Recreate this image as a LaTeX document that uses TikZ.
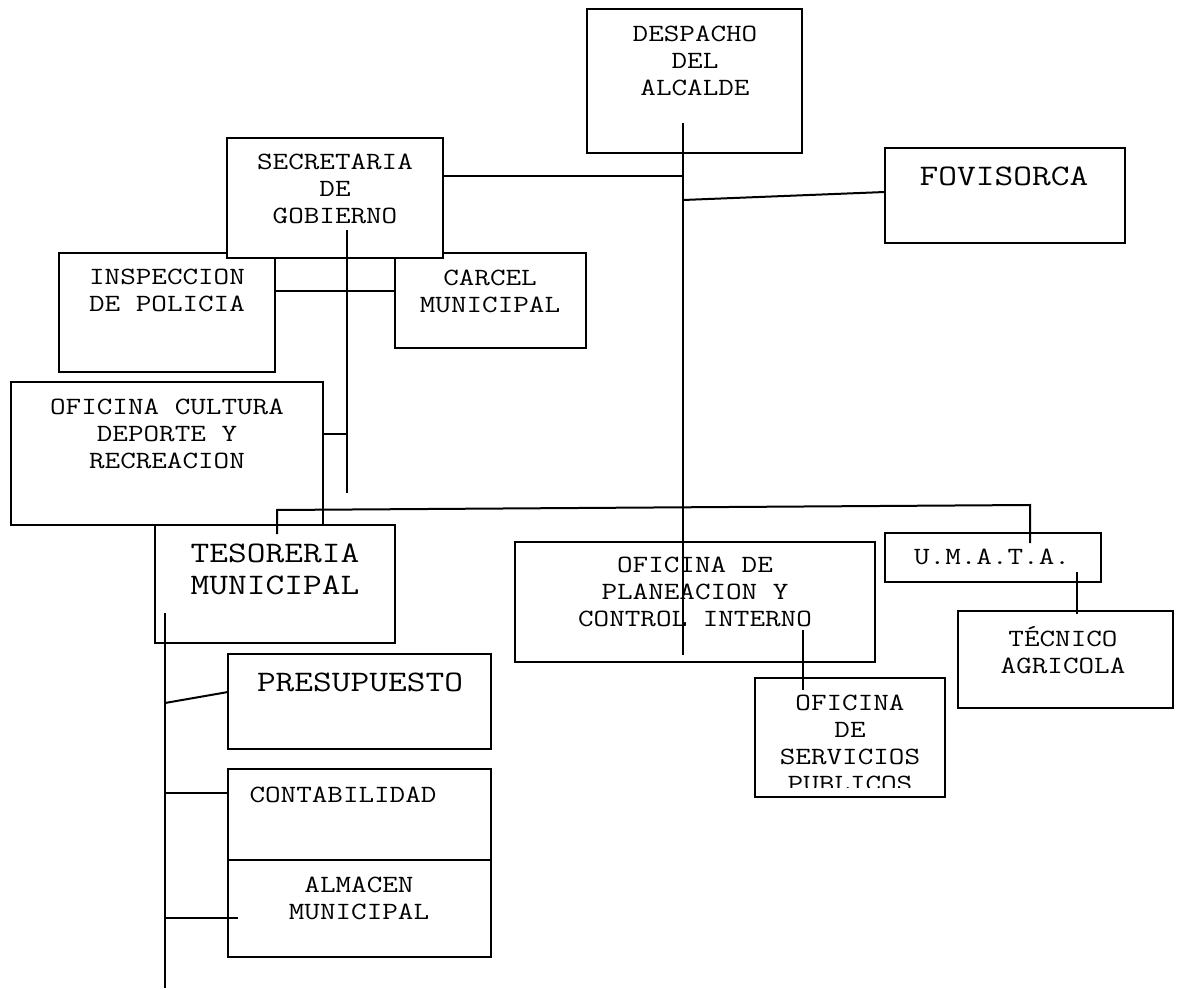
\documentclass[tikz,border=0pt]{standalone}
\usepackage{fontspec}
\setmainfont{Latin Modern Mono}[FakeStretch=1.22]
\usetikzlibrary{fit}
\newcommand\monosmall{\fontsize{12.4pt}{13.5pt}\selectfont}
\newcommand\monobig{\fontsize{14.9pt}{16pt}\selectfont}
\tikzset{
  unit/.style={draw, fill=white, line width=1pt, inner sep=0pt},
  caption/.style={font=\monosmall, align=center, inner sep=0pt},
  bigcaption/.style={font=\monobig, align=center, inner sep=0pt},
  link/.style={line width=1pt}
}
\begin{document}
\begin{tikzpicture}[x=0.5pt, y=-0.5pt]
\useasboundingbox (0,0) rectangle (1180,990);

\node[unit, fit={(587,9) (802,153)}]     (despacho) {};
\node[unit, fit={(885,148) (1125,243)}]  (fovisorca) {};
\node[unit, fit={(59,253) (275,372)}]    (inspeccion) {};
\node[unit, fit={(395,253) (586,348)}]   (carcel) {};
\node[unit, fit={(227,138) (443,258)}]   (secretaria) {};
\node[unit, fit={(11,382) (323,525)}]    (cultura) {};
\node[unit, fit={(155,525) (395,643)}]   (tesoreria) {};
\node[unit, fit={(228,654) (491,749)}]   (presupuesto) {};
\node[unit, fit={(228,769) (491,860)}]   (contabilidad) {};
\node[unit, fit={(228,860) (491,957)}]   (almacen) {};
\node[unit, fit={(515,542) (875,662)}]   (planeacion) {};
\node[unit, fit={(755,678) (945,797)}]   (servicios) {};
\node[unit, fit={(885,533) (1101,582)}]  (umata) {};
\node[unit, fit={(958,611) (1173,708)}]  (tecnico) {};

\node[caption]    (despacho-t)     at (695,61)   {DESPACHO\\DEL\\ALCALDE};
\node[caption]    (secretaria-t)   at (335,189)  {SECRETARIA\\DE\\GOBIERNO};
\node[bigcaption] (fovisorca-t)    at (1004,176) {FOVISORCA};
\node[caption]    (inspeccion-t)   at (167,290)  {INSPECCION\\DE POLICIA};
\node[caption]    (carcel-t)       at (490,291)  {CARCEL\\MUNICIPAL};
\node[caption]    (cultura-t)      at (167,434)  {OFICINA CULTURA\\DEPORTE Y\\RECREACION};
\node[bigcaption] (tesoreria-t)    at (275,569)  {TESORERIA\\MUNICIPAL};
\node[bigcaption] (presupuesto-t)  at (360,682)  {PRESUPUESTO};
\node[caption]    (contabilidad-t) at (343,795)  {CONTABILIDAD};
\node[caption]    (almacen-t)      at (359,898)  {ALMACEN\\MUNICIPAL};
\node[caption]    (planeacion-t)   at (695,592)  {OFICINA DE\\PLANEACION Y\\CONTROL INTERNO};
\node[caption]    (umata-t)        at (992,557)  {U.M.A.T.A.};
\node[caption]    (tecnico-t)      at (1063,650) {TÉCNICO\\AGRICOLA};
\begin{scope}
\clip (755,678) rectangle (945,787);
\node[caption]    (servicios-t)    at (850,743)  {OFICINA\\DE\\SERVICIOS\\PUBLICOS};
\end{scope}

\coordinate (trunk-top)   at (683,123);
\coordinate (trunk-end)   at (683,655);
\coordinate (trunk-sec)   at (683,176);
\coordinate (trunk-fov)   at (683,200);
\coordinate (sec-out)     at (443,176);
\coordinate (fov-in)      at (885,192);
\coordinate (gob-top)     at (347,230);
\coordinate (gob-end)     at (347,493);
\coordinate (ins-out)     at (275,291);
\coordinate (car-in)      at (395,291);
\coordinate (cul-out)     at (323,434);
\coordinate (gob-cul)     at (347,434);
\coordinate (tes-up)      at (277,534);
\coordinate (tes-knee)    at (277,510);
\coordinate (uma-knee)    at (1030,505);
\coordinate (uma-in)      at (1030,543);
\coordinate (tes-top)     at (165,613);
\coordinate (tes-end)     at (165,988);
\coordinate (tes-pre)     at (165,703);
\coordinate (pre-in)      at (228,692);
\coordinate (tes-con)     at (165,793);
\coordinate (con-in)      at (228,793);
\coordinate (tes-alm)     at (165,918);
\coordinate (alm-in)      at (238,918);
\coordinate (pla-out)     at (803,630);
\coordinate (ser-in)      at (803,690);
\coordinate (uma-out)     at (1077,572);
\coordinate (tec-in)      at (1077,614);

\draw[link] (trunk-top) -- (trunk-end);
\draw[link] (sec-out) -- (trunk-sec);
\draw[link] (trunk-fov) -- (fov-in);
\draw[link] (gob-top) -- (gob-end);
\draw[link] (ins-out) -- (car-in);
\draw[link] (cul-out) -- (gob-cul);
\draw[link] (tes-up) -- (tes-knee) -- (uma-knee) -- (uma-in);
\draw[link] (tes-top) -- (tes-end);
\draw[link] (tes-pre) -- (pre-in);
\draw[link] (tes-con) -- (con-in);
\draw[link] (tes-alm) -- (alm-in);
\draw[link] (pla-out) -- (ser-in);
\draw[link] (uma-out) -- (tec-in);

\end{tikzpicture}
\end{document}
